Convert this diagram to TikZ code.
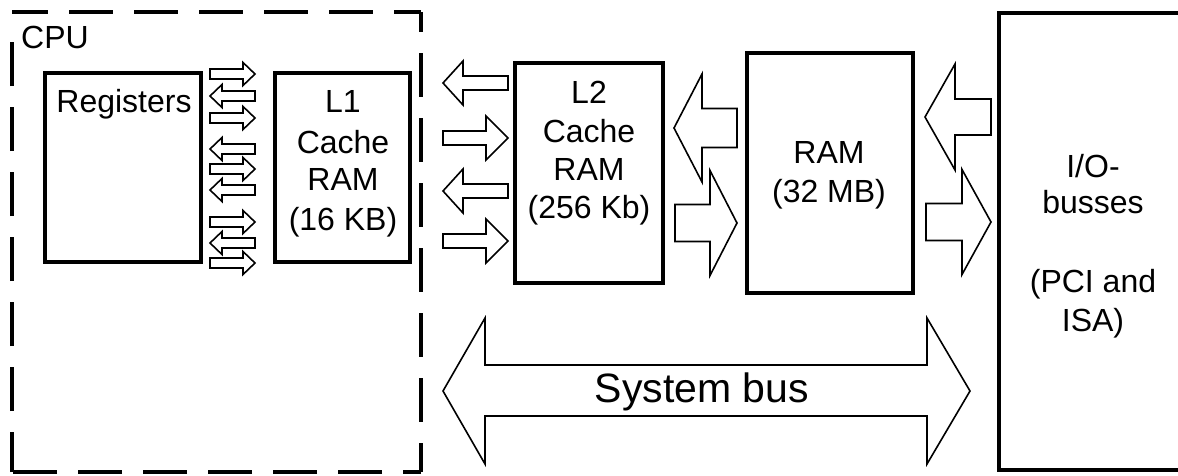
\documentclass[tikz,border=0pt]{standalone}
\usepackage{fontspec}
\setmainfont{Liberation Sans}
\newcommand{\blockarrow}[7]{%
  \draw[barrow] ({#2},{#5-#6}) -- ({#3},{#5-#6}) -- ({#3},{#5-#7}) -- ({#4},{#5}) -- ({#3},{#5+#7}) -- ({#3},{#5+#6}) -- ({#2},{#5+#6}) -- cycle;%
  \coordinate (#1) at ({#4},{#5});}
\begin{document}
\begin{tikzpicture}[x=1pt,y=-1pt,
  box/.style={draw, line width=4pt, inner sep=0pt, outer sep=0pt, anchor=north west},
  lbl/.style={font=\fontsize{32}{38}\selectfont, anchor=base, inner sep=0pt},
  buslbl/.style={font=\fontsize{41}{48}\selectfont, anchor=base, inner sep=0pt},
  barrow/.style={draw, line width=1.6pt, line join=miter},
  cpuline/.style={line width=4.5pt, dash pattern=on 44pt off 21pt}]
\useasboundingbox (0,0) rectangle (1178,475);
\fill[white] (0,0) rectangle (1178,475);

% CPU dashed frame
\draw[cpuline, dash phase=8pt] (12,12) -- (421,12);
\draw[cpuline, dash phase=24pt] (421,12) -- (421,472);
\draw[cpuline, dash phase=26pt] (421,472) -- (12,472);
\draw[cpuline, dash phase=4pt] (12,472) -- (12,36);
\node[lbl] (cpul) at (55,48) {CPU};

% boxes
\node[box, minimum width=156pt, minimum height=189pt] (reg) at (45,73) {};
\node[box, minimum width=135pt, minimum height=189pt] (l1) at (275,73) {};
\node[box, minimum width=148pt, minimum height=220pt] (l2) at (515,63) {};
\node[box, minimum width=166pt, minimum height=240pt] (ram) at (747,53) {};
\begin{scope}
\clip (0,0) rectangle (1178,475);
\node[box, minimum width=260pt, minimum height=457pt] (io) at (999,13) {};
\end{scope}

% labels
\node[lbl] (regt) at (124,112) {Registers};
\node[lbl] (l1a) at (343,112) {L1};
\node[lbl] (l1b) at (343,153) {Cache};
\node[lbl] (l1c) at (343,190) {RAM};
\node[lbl] (l1d) at (343,230) {(16 KB)};
\node[lbl] (l2a) at (589,103) {L2};
\node[lbl] (l2b) at (589,142) {Cache};
\node[lbl] (l2c) at (589,180) {RAM};
\node[lbl] (l2d) at (589,218) {(256 Kb)};
\node[lbl] (rama) at (829,163) {RAM};
\node[lbl] (ramb) at (829,202) {(32 MB)};
\node[lbl] (ioa) at (1093,177) {I/O-};
\node[lbl] (iob) at (1093,213) {busses};
\node[lbl] (ioc) at (1093,292) {(PCI and};
\node[lbl] (iod) at (1093,331) {ISA)};

% small arrows registers <-> L1
\blockarrow{s1}{210}{243}{255}{74}{5}{11.5}
\blockarrow{s2}{255}{222}{210}{96}{5}{11.5}
\blockarrow{s3}{210}{243}{255}{118}{5}{11.5}
\blockarrow{s4}{255}{222}{210}{149}{5}{11.5}
\blockarrow{s5}{210}{243}{255}{169}{5}{11.5}
\blockarrow{s6}{255}{222}{210}{190}{5}{11.5}
\blockarrow{s7}{210}{243}{255}{222}{5}{11.5}
\blockarrow{s8}{255}{222}{210}{243}{5}{11.5}
\blockarrow{s9}{210}{243}{255}{263}{5}{11.5}

% arrows CPU <-> L2
\blockarrow{m1}{508}{463}{443}{83}{7}{22}
\blockarrow{m2}{443}{486}{508}{138}{7}{22}
\blockarrow{m3}{508}{463}{443}{191}{7}{22}
\blockarrow{m4}{443}{486}{508}{241}{7}{22}

% arrows L2 <-> RAM
\blockarrow{b1}{737}{702}{674}{128}{19.5}{54}
\blockarrow{b2}{675}{710}{737}{223}{18.5}{52.5}

% arrows RAM <-> I/O
\blockarrow{c1}{991}{955}{925}{117}{18}{53}
\blockarrow{c2}{926}{962}{991}{222}{18.5}{52.5}

% system bus
\draw[barrow] (485,365) -- (927,365) -- (927,318) -- (970,391) -- (927,464) -- (927,416) -- (485,416) -- (485,464) -- (443,391) -- (485,318) -- cycle;
\node[buslbl] (bus) at (702,402) {System bus};
\end{tikzpicture}
\end{document}
